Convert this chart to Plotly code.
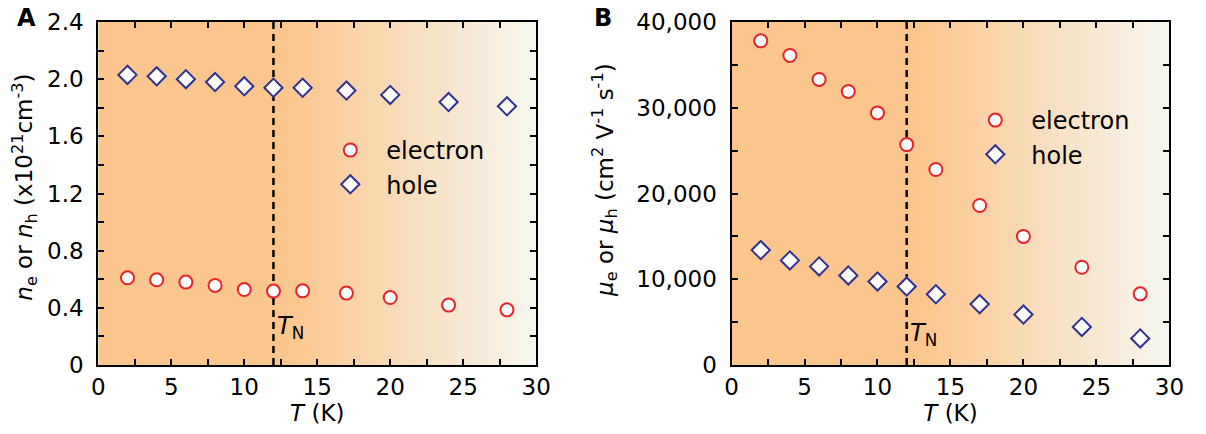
import numpy as np
import plotly.graph_objects as go

# ---------------- data ----------------
T = [2, 4, 6, 8, 10, 12, 14, 17, 20, 24, 28]
n_electron = [0.61, 0.596, 0.58, 0.557, 0.528, 0.517, 0.519, 0.503, 0.472, 0.419, 0.386]
n_hole = [2.03, 2.02, 2.00, 1.98, 1.95, 1.94, 1.94, 1.92, 1.89, 1.84, 1.81]
mu_electron = [37800, 36100, 33300, 31900, 29400, 25700, 22800, 18600, 15000, 11400, 8300]
mu_hole = [13400, 12200, 11500, 10440, 9740, 9150, 8250, 7100, 5880, 4440, 3100]
T_N = 12
x_ticks = [0, 5, 10, 15, 20, 25, 30]
x_ticktext = ["0", "5", "10", "15", "20", "25", "30"]
yA_ticks = [0, 0.4, 0.8, 1.2, 1.6, 2.0, 2.4]
yA_ticktext = ["0", "0.4", "0.8", "1.2", "1.6", "2.0", "2.4"]
yB_ticks = [0, 10000, 20000, 30000, 40000]
yB_ticktext = ["0", "10,000", "20,000", "30,000", "40,000"]

# ---------------- style ----------------
FONT = "DejaVu Sans"
RED = "#E8232A"
NAVY = "#2E3192"
ORANGE = (251, 198, 142)
WHITE = (246, 246, 238)
GRAD_START, GRAD_END = 13.0, 29.8
W, H = 1206, 434
ML, MT, MB = 0, 22, 69
PH = H - MT - MB
domA = [93 / W, 539 / W]
domB = [738 / W, 1184 / W]
TICK_FS = 23

circle_marker = dict(symbol="circle", size=13, color="white", line=dict(color=RED, width=2))
diamond_marker = dict(symbol="diamond", size=14, color="white", line=dict(color=NAVY, width=2))

fig = go.Figure()
fig.add_trace(go.Scatter(x=T, y=n_electron, mode="markers", name="electron",
                         marker=circle_marker, xaxis="x", yaxis="y", legend="legend"))
fig.add_trace(go.Scatter(x=T, y=n_hole, mode="markers", name="hole",
                         marker=diamond_marker, xaxis="x", yaxis="y", legend="legend"))
fig.add_trace(go.Scatter(x=T, y=mu_electron, mode="markers", name="electron",
                         marker=circle_marker, xaxis="x2", yaxis="y2", legend="legend2"))
fig.add_trace(go.Scatter(x=T, y=mu_hole, mode="markers", name="hole",
                         marker=diamond_marker, xaxis="x2", yaxis="y2", legend="legend2"))

# background gradient shapes
shapes = []
def mix(a, b, t):
    return "rgb(%d,%d,%d)" % tuple(round(a[i] + (b[i] - a[i]) * t) for i in range(3))

for xr, yr in (("x", "y"), ("x2", "y2")):
    shapes.append(dict(type="rect", xref=xr, yref=yr + " domain", x0=0, x1=GRAD_START + 0.05,
                       y0=0, y1=1, fillcolor=mix(ORANGE, WHITE, 0), line=dict(width=0),
                       layer="below"))
    N = 60
    edges = np.linspace(GRAD_START, 30, N + 1)
    for i in range(N):
        t = min(1.0, ((edges[i] + edges[i + 1]) / 2 - GRAD_START) / (GRAD_END - GRAD_START))
        shapes.append(dict(type="rect", xref=xr, yref=yr + " domain",
                           x0=edges[i], x1=edges[i + 1] + 0.05, y0=0, y1=1,
                           fillcolor=mix(ORANGE, WHITE, t), line=dict(width=0),
                           layer="below"))
    shapes.append(dict(type="line", xref=xr, yref=yr + " domain", x0=T_N, x1=T_N,
                       y0=0, y1=1, line=dict(color="black", width=2.5, dash="7px,5px"),
                       layer="below"))

axis_common = dict(showline=True, linewidth=2.2, linecolor="black", mirror="ticks",
                   ticks="inside", ticklen=6, tickwidth=1.5, tickcolor="black",
                   showgrid=False, zeroline=False,
                   tickfont=dict(family=FONT, size=TICK_FS, color="black"))

def xaxis_conf(domain, anchor):
    return dict(axis_common, domain=domain, anchor=anchor, range=[0, 30],
                tickmode="array", tickvals=x_ticks, ticktext=x_ticktext,
                minor=dict(tickmode="array", tickvals=[2.5, 7.5, 12.5, 17.5, 22.5, 27.5],
                           ticks="inside", ticklen=6, tickwidth=1.5,
                           tickcolor="black", showgrid=False),
                title=dict(text="<i>T</i> (K)", font=dict(family=FONT, size=TICK_FS, color="black"),
                           standoff=2))

fig.update_layout(
    width=W, height=H,
    margin=dict(l=ML, r=0, t=MT, b=MB),
    paper_bgcolor="white", plot_bgcolor="white",
    font=dict(family=FONT, size=TICK_FS, color="black"),
    shapes=shapes,
    xaxis=xaxis_conf(domA, "y"),
    xaxis2=xaxis_conf(domB, "y2"),
    yaxis=dict(axis_common, domain=[0, 1], anchor="x", range=[0, 2.4], tickmode="array",
               tickvals=yA_ticks, ticktext=yA_ticktext, ticklabelstandoff=8,
               minor=dict(dtick=0.2, ticks="inside", ticklen=6, tickwidth=1.5,
                          tickcolor="black", showgrid=False)),
    yaxis2=dict(axis_common, domain=[0, 1], anchor="x2", range=[0, 40000], tickmode="array",
                tickvals=yB_ticks, ticktext=yB_ticktext, ticklabelstandoff=8,
                minor=dict(dtick=5000, ticks="inside", ticklen=6, tickwidth=1.5,
                           tickcolor="black", showgrid=False)),
    legend=dict(x=313 / W, y=1 - (128 - MT) / PH, xanchor="left", yanchor="top",
                bgcolor="rgba(0,0,0,0)", borderwidth=0, itemwidth=62,
                font=dict(family=FONT, size=24, color="black")),
    legend2=dict(x=970 / W, y=1 - (98 - MT) / PH, xanchor="left", yanchor="top",
                 bgcolor="rgba(0,0,0,0)", borderwidth=0, itemwidth=62,
                 font=dict(family=FONT, size=24, color="black")),
    showlegend=True,
)

ann = [
    dict(text="<b>A</b>", x=8 / W, y=1 + (MT - 18) / PH, xref="paper", yref="paper",
         xanchor="left", yanchor="middle", showarrow=False,
         font=dict(family=FONT, size=24, color="black")),
    dict(text="<b>B</b>", x=596 / W, y=1 + (MT - 18) / PH, xref="paper", yref="paper",
         xanchor="left", yanchor="middle", showarrow=False,
         font=dict(family=FONT, size=24, color="black")),
    dict(text="<i>n</i><sub>e</sub> or <i>n</i><sub>h</sub> (x10<sup>21</sup>cm<sup>-3</sup>)",
         x=17 / W, y=1 - (187 - MT) / PH, xref="paper", yref="paper",
         textangle=-90, xanchor="center", yanchor="middle", showarrow=False,
         font=dict(family=FONT, size=23, color="black")),
    dict(text="<i>μ</i><sub>e</sub> or <i>μ</i><sub>h</sub> (cm<sup>2</sup> V<sup>-1</sup> s<sup>-1</sup>)",
         x=608 / W, y=1 - (180 - MT) / PH, xref="paper", yref="paper",
         textangle=-90, xanchor="center", yanchor="middle", showarrow=False,
         font=dict(family=FONT, size=23, color="black")),
    dict(text="<i>T</i><sub>N</sub>", x=T_N + 0.1, y=0.26, xref="x", yref="y",
         xanchor="left", yanchor="middle", showarrow=False,
         font=dict(family=FONT, size=24, color="black")),
    dict(text="<i>T</i><sub>N</sub>", x=T_N + 0.1, y=3500, xref="x2", yref="y2",
         xanchor="left", yanchor="middle", showarrow=False,
         font=dict(family=FONT, size=24, color="black")),
]
fig.update_layout(annotations=ann)

fig.write_html("out.html")
